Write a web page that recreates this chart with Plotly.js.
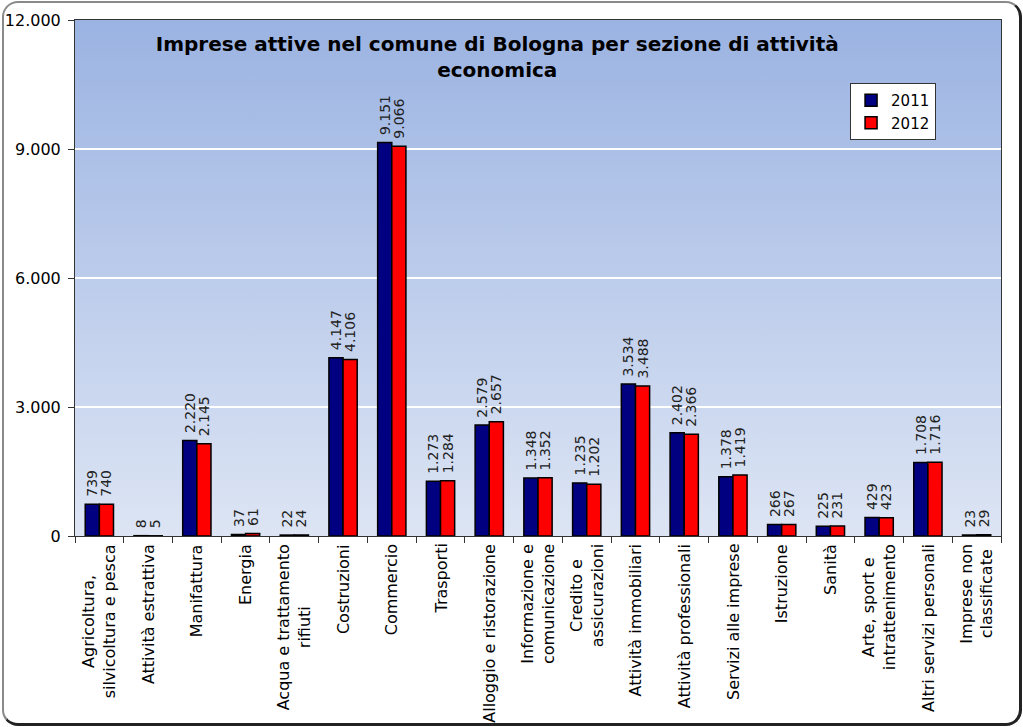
<!DOCTYPE html>
<html>
<head>
<meta charset="utf-8">
<script src="https://cdn.plot.ly/plotly-3.0.1.min.js"></script>
<style>
  html, body { margin: 0; padding: 0; background: #ffffff; }
  #wrap { position: relative; width: 1023px; height: 727px; overflow: hidden; }
  #chart { position: absolute; left: 0; top: 0; width: 1023px; height: 727px; }
  #frame { position: absolute; left: 2px; top: 1px; width: 1015px; height: 720px;
           border: 2px solid #8a8a8a; border-right: 3px solid #222; border-bottom: 3px solid #222;
           border-radius: 16px; pointer-events: none; }
</style>
</head>
<body>
<div id="wrap">
  <div id="chart"></div>
  <div id="frame"></div>
</div>
<script>
const categories = [
  "Agricoltura,<br>silvicoltura e pesca",
  "Attività estrattiva",
  "Manifattura",
  "Energia",
  "Acqua e trattamento<br>rifiuti",
  "Costruzioni",
  "Commercio",
  "Trasporti",
  "Alloggio e ristorazione",
  "Informazione e<br>comunicazione",
  "Credito e<br>assicurazioni",
  "Attività immobiliari",
  "Attività professionali",
  "Servizi alle imprese",
  "Istruzione",
  "Sanità",
  "Arte, sport e<br>intrattenimento",
  "Altri servizi personali",
  "Imprese non<br>classificate"
];
const values2011 = [739, 8, 2220, 37, 22, 4147, 9151, 1273, 2579, 1348, 1235, 3534, 2402, 1378, 266, 225, 429, 1708, 23];
const values2012 = [740, 5, 2145, 61, 24, 4106, 9066, 1284, 2657, 1352, 1202, 3488, 2366, 1419, 267, 231, 423, 1716, 29];
const seriesNames = ["2011", "2012"];
const yTicks = [0, 3000, 6000, 9000, 12000];
const chartTitle = "Imprese attive nel comune di Bologna per sezione di attività<br>economica";

const FONT = "DejaVu Sans, Verdana, sans-serif";

function barTrace(name, vals, color) {
  return {
    type: "bar",
    name: name,
    x: categories,
    y: vals,
    marker: { color: color, line: { color: "#000000", width: 1.5 } },
    texttemplate: "\u00a0%{y:,}",
    textposition: "outside",
    textangle: -90,
    constraintext: "none",
    cliponaxis: false,
    textfont: { family: FONT, size: 14, color: "#222222" },
    hoverinfo: "skip"
  };
}

const traces = [
  barTrace(seriesNames[0], values2011, "#000080"),
  barTrace(seriesNames[1], values2012, "#ff0000")
];

const gradSvg = "<svg xmlns='http://www.w3.org/2000/svg' width='100' height='100' preserveAspectRatio='none'>" +
  "<defs><linearGradient id='g' x1='0' y1='0' x2='0' y2='1'>" +
  "<stop offset='0' stop-color='#9bb3e2'/><stop offset='1' stop-color='#dde5f4'/>" +
  "</linearGradient></defs><rect width='100' height='100' fill='url(#g)'/></svg>";

const annotations = categories.map(c => ({
  x: c, y: 0, xref: "x", yref: "paper",
  xanchor: "center", yanchor: "top",
  yshift: -6,
  textangle: -90,
  align: "center",
  showarrow: false,
  text: c,
  font: { family: FONT, size: 16, color: "#000000" }
}));

const layout = {
  width: 1023, height: 727,
  margin: { l: 75, r: 22, t: 20, b: 191, pad: 0 },
  paper_bgcolor: "#ffffff",
  plot_bgcolor: "rgba(0,0,0,0)",
  separators: ",.",
  barmode: "group",
  bargap: 0.42,
  bargroupgap: 0,
  title: {
    text: chartTitle,
    font: { family: FONT, size: 20, color: "#000000", weight: "bold" },
    x: 0.456, xref: "paper", xanchor: "center",
    y: 0.93, yref: "container", yanchor: "top"
  },
  showlegend: true,
  legend: {
    x: 0.837, y: 0.878, xanchor: "left", yanchor: "top",
    bgcolor: "#ffffff", bordercolor: "#333333", borderwidth: 1,
    font: { family: FONT, size: 15, color: "#000000" },
    itemwidth: 30, tracegroupgap: 4
  },
  xaxis: {
    type: "category",
    showticklabels: false,
    ticks: "outside", ticklen: 6, tickcolor: "#333333", tickwidth: 1,
    tickson: "boundaries",
    showline: true, linecolor: "#333333", linewidth: 1, mirror: true,
    showgrid: false, zeroline: false, fixedrange: true
  },
  yaxis: {
    range: [0, 12000],
    tickvals: yTicks,
    tickformat: ",",
    ticks: "outside", ticklen: 6, tickcolor: "#333333",
    ticklabelstandoff: 4,
    showline: true, linecolor: "#333333", linewidth: 1, mirror: true,
    showgrid: true, gridcolor: "#ffffff", gridwidth: 1.5,
    zeroline: false,
    tickfont: { family: FONT, size: 16, color: "#000000" },
    fixedrange: true
  },
  images: [{
    source: "data:image/svg+xml;charset=utf-8," + encodeURIComponent(gradSvg),
    xref: "paper", yref: "paper", x: 0, y: 1, sizex: 1, sizey: 1,
    sizing: "stretch", xanchor: "left", yanchor: "top", layer: "below"
  }],
  annotations: annotations
};

Plotly.newPlot("chart", traces, layout, { displayModeBar: false, staticPlot: true });
</script>
</body>
</html>
